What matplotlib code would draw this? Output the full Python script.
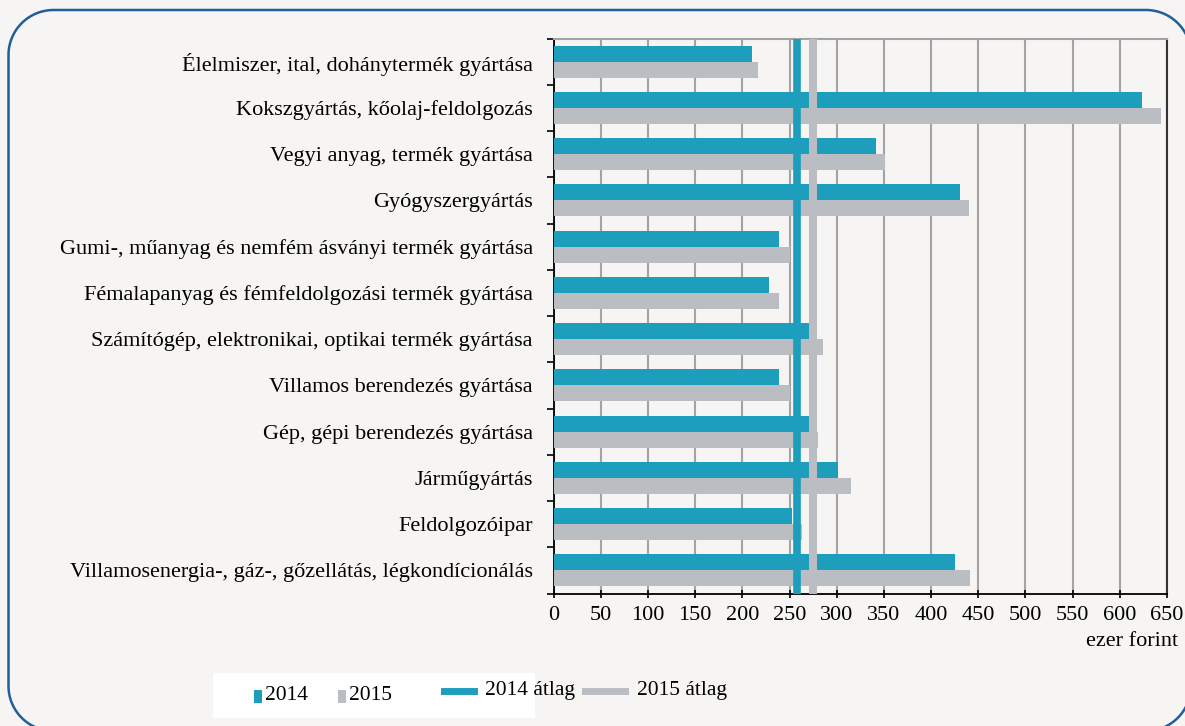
import matplotlib.pyplot as plt
import matplotlib.patches as patches
from matplotlib.lines import Line2D
import numpy as np

plt.rcParams['font.family'] = ['Liberation Serif', 'DejaVu Serif']

categories = [
    "Élelmiszer, ital, dohánytermék gyártása",
    "Kokszgyártás, kőolaj-feldolgozás",
    "Vegyi anyag, termék gyártása",
    "Gyógyszergyártás",
    "Gumi-, műanyag és nemfém ásványi termék gyártása",
    "Fémalapanyag és fémfeldolgozási termék gyártása",
    "Számítógép, elektronikai, optikai termék gyártása",
    "Villamos berendezés gyártása",
    "Gép, gépi berendezés gyártása",
    "Járműgyártás",
    "Feldolgozóipar",
    "Villamosenergia-, gáz-, gőzellátás, légkondícionálás",
]
values_2014 = [210, 624, 342, 431, 239, 228, 272, 239, 271, 301, 253, 425]
values_2015 = [217, 644, 351, 440, 250, 239, 286, 250, 280, 315, 263, 441]
avg_2014 = 258
avg_2015 = 275
xticks = list(range(0, 651, 50))

teal = '#1e9ebd'
grey = '#babdc1'
bg = '#f6f5f3'
W, H = 1185, 726

fig = plt.figure(figsize=(W/100, H/100), dpi=100, facecolor=bg)
ax = fig.add_axes([553.6/W, 1-593.5/H, 613.4/W, 555/H])
ax.set_facecolor(bg)

y = np.arange(len(categories))
h = 0.345
ax.barh(y - h/2, values_2014, height=h, color=teal, zorder=3)
ax.barh(y + h/2, values_2015, height=h, color=grey, zorder=3)
ax.axvline(avg_2014, color=teal, lw=5.5, zorder=4)
ax.axvline(avg_2015, color=grey, lw=5.8, zorder=4)

ax.set_xlim(0, 650)
ax.set_ylim(len(categories) - 0.5, -0.5)
ax.set_xticks(xticks)
ax.set_xticklabels([str(t) for t in xticks], fontsize=16)
ax.set_yticks(y)
ax.set_yticklabels(categories, fontsize=16)
ax.set_yticks(np.arange(len(categories) + 1) - 0.5, minor=True)
ax.tick_params(axis='y', which='major', length=0, pad=15)
ax.tick_params(axis='y', which='minor', length=5, direction='out', width=1.2)
ax.tick_params(axis='x', length=6, direction='inout', width=1.2, pad=6)
ax.grid(axis='x', color='#a3a3a6', lw=1.5, zorder=1)
for s in ['left', 'bottom']:
    ax.spines[s].set_color('black')
    ax.spines[s].set_linewidth(1.3)
ax.spines['top'].set_color('#a3a3a6')
ax.spines['top'].set_linewidth(1.5)
ax.spines['right'].set_color('#333333')
ax.spines['right'].set_linewidth(1.5)

fig.text(1178/W, 1-642/H, 'ezer forint', ha='right', va='center', fontsize=16)

# rounded frame, built in pixels (runs off the picture at right and bottom)
def rounded_outline(x0, y0, x1, y1, r):
    xs, ys = [], []
    corners = [(x1 - r, y1 - r, 0), (x0 + r, y1 - r, 90), (x0 + r, y0 + r, 180), (x1 - r, y0 + r, 270)]
    for cx, cy, a0 in corners:
        t = np.radians(np.linspace(a0, a0 + 90, 30))
        xs.extend(cx + r*np.cos(t))
        ys.extend(cy + r*np.sin(t))
    xs.append(xs[0])
    ys.append(ys[0])
    return np.array(xs), np.array(ys)

fx, fy = rounded_outline(8.5, -5, 1191, 716, 45)
fig.add_artist(Line2D(fx/W, fy/H, transform=fig.transFigure, color='#1f5f9c', lw=1.8))

# legend
fig.add_artist(patches.Rectangle((213/W, 1-718/H), 322/W, 45/H,
                                 transform=fig.transFigure, facecolor='white', edgecolor='none'))
fig.add_artist(patches.Rectangle((254/W, 1-703/H), 8/W, 13/H,
                                 transform=fig.transFigure, facecolor=teal, edgecolor='none'))
fig.text(265/W, 1-695/H, '2014', va='center', fontsize=15.5)
fig.add_artist(patches.Rectangle((338/W, 1-703/H), 8/W, 13/H,
                                 transform=fig.transFigure, facecolor=grey, edgecolor='none'))
fig.text(349/W, 1-695/H, '2015', va='center', fontsize=15.5)
fig.add_artist(Line2D([444/W, 474/W], [1-691/H, 1-691/H], transform=fig.transFigure,
                      color=teal, lw=5))
fig.text(485/W, 1-691/H, '2014 átlag', va='center', fontsize=15.5)
fig.add_artist(Line2D([585/W, 625/W], [1-691/H, 1-691/H], transform=fig.transFigure,
                      color=grey, lw=5))
fig.text(637/W, 1-691/H, '2015 átlag', va='center', fontsize=15.5)

fig.savefig('out.png', dpi=100, facecolor=bg)
